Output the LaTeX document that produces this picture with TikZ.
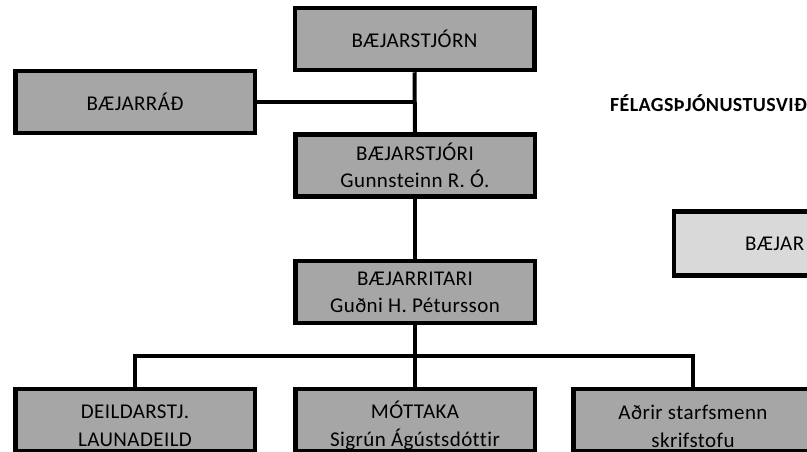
\documentclass[tikz,border=0pt]{standalone}
\usepackage{fontspec}
\setmainfont[LetterSpace=2,Ligatures=NoCommon]{Carlito}
\definecolor{boxgray}{HTML}{A6A6A6}
\definecolor{lightgray2}{HTML}{D9D9D9}
\begin{document}
\begin{tikzpicture}[x=1pt,y=-1pt,
  orgbox/.style={draw=black, line width=4.5pt, fill=boxgray, minimum width=239.5pt, minimum height=62pt, inner sep=0pt, align=center, font=\fontsize{21}{27}\selectfont},
  lightbox/.style={orgbox, fill=lightgray2},
  boxtext/.style={inner sep=0pt, align=center, font=\fontsize{21}{28}\selectfont},
  conn/.style={line width=4pt}]
\useasboundingbox (0,0) rectangle (807,451);
\begin{scope}
\clip (0,0) rectangle (807,451);
\node[orgbox] (sjorn) at (414.5,39) {BÆJARSTJÓRN};
\node[orgbox] (radh) at (135,102) {BÆJARRÁÐ};
\node[orgbox] (stjori) at (415,165.5) {BÆJARSTJÓRI\\Gunnsteinn R. Ó.};
\node[orgbox] (ritari) at (415,292) {BÆJARRITARI\\Guðni H. Pétursson};
\node[orgbox] (deild) at (135,420) {};
\node[orgbox] (mott) at (415,420) {};
\node[orgbox] (adrir) at (693,420) {};
\node[boxtext] (deildtxt) at ([yshift=-6pt]deild.center) {DEILDARSTJ.\\LAUNADEILD};
\node[boxtext] (motttxt) at ([yshift=-6pt]mott.center) {MÓTTAKA\\Sigrún Ágústsdóttir};
\node[boxtext] (adrirtxt) at ([yshift=-6pt]adrir.center) {Aðrir starfsmenn\\skrifstofu};
\node[lightbox, minimum width=300pt, minimum height=64pt] (bjar) at (824,243.5) {};
\node[anchor=west, font=\fontsize{21}{27}\selectfont, inner sep=0pt] (bjartxt) at (745,243.5) {BÆJAR};
\node[anchor=east, font=\fontsize{20}{24}\selectfont\bfseries, inner sep=0pt] (fel) at (807,103) {FÉLAGSÞJÓNUSTUSVIÐ};
\coordinate (bus) at (415,356);
\draw[conn] (sjorn.south) -- (stjori.north);
\draw[conn] (radh.east) -- (radh.east -| sjorn.south);
\draw[conn] (stjori.south) -- (ritari.north);
\draw[conn] (ritari.south) -- (bus);
\draw[conn] (deild.north) |- (bus -| adrir.north) -- (adrir.north);
\draw[conn] (bus) -- (mott.north);
\end{scope}
\end{tikzpicture}
\end{document}
